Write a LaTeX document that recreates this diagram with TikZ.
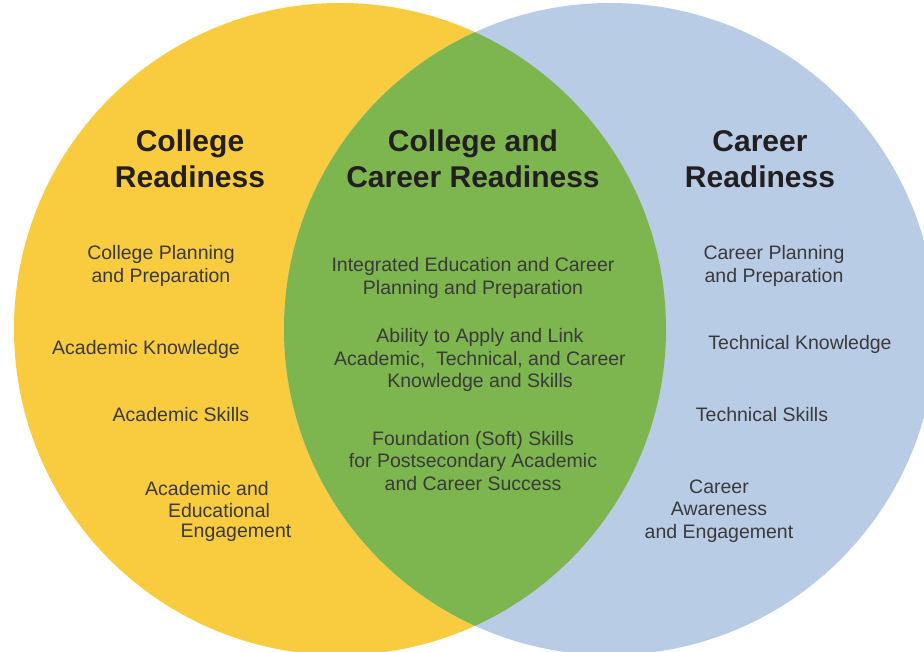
\documentclass[tikz,border=0pt]{standalone}
\usepackage{fontspec}
\setmainfont{Liberation Sans}
\definecolor{cyellow}{HTML}{F9CB3E}
\definecolor{cblue}{HTML}{B8CCE6}
\definecolor{cgreen}{HTML}{7DB54F}
\definecolor{ctitle}{HTML}{231F20}
\definecolor{cbody}{HTML}{3A3A3A}
\tikzset{
  title/.style={font=\fontsize{30}{36}\selectfont\bfseries, text=ctitle, align=center, inner sep=0pt},
  item/.style={font=\fontsize{19.5}{22.5}\selectfont, text=cbody, align=center, inner sep=0pt},
}
\begin{document}
\begin{tikzpicture}[x=1pt,y=-1pt]
\useasboundingbox (0,0) rectangle (924,652);
\clip (0,0) rectangle (924,652);
\fill[cyellow] (340,329) circle[radius=326];
\fill[cblue] (610,329) circle[radius=326];
\begin{scope}
  \clip (340,329) circle[radius=326];
  \fill[cgreen] (610,329) circle[radius=326];
\end{scope}
% titles
\node[title] (t1) at (190,159) {College\\Readiness};
\node[title] (t2) at (473,159) {College and\\Career Readiness};
\node[title] (t3) at (760,159) {Career\\Readiness};
% left
\node[item] (l1) at (161,266) {College Planning\\and Preparation};
\node[item] (l2) at (146,349) {Academic Knowledge};
\node[item] (l3) at (181,415) {Academic Skills};
\node[item] (l4a) at (207,489) {Academic and};
\node[item] (l4b) at (219,511) {Educational};
\node[item] (l4c) at (236,533) {Engagement};
% center
\node[item] (c1) at (473,278) {Integrated Education and Career\\Planning and Preparation};
\node[item] (c2) at (480,360) {Ability to Apply and Link\\Academic,\ \ Technical, and Career\\Knowledge and Skills};
\node[item] (c3) at (473,461) {Foundation (Soft) Skills\\for Postsecondary Academic\\and Career Success};
% right
\node[item] (r1) at (774,266) {Career Planning\\and Preparation};
\node[item] (r2) at (800,344) {Technical Knowledge};
\node[item] (r3) at (762,415) {Technical Skills};
\node[item] (r4) at (719,511) {Career\\Awareness\\and Engagement};
\end{tikzpicture}
\end{document}
